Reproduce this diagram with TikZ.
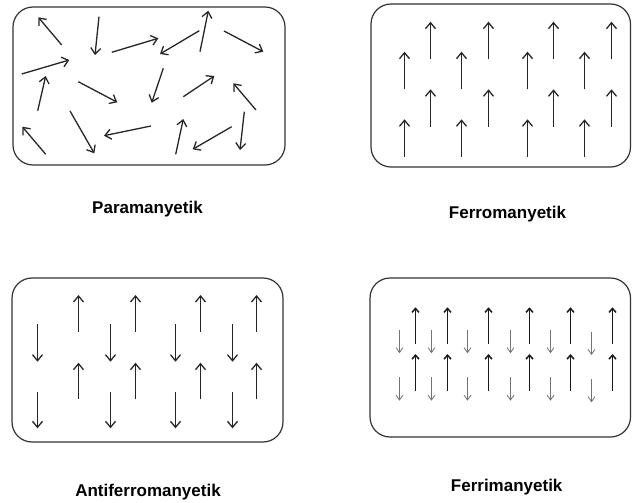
\documentclass[tikz,border=0pt]{standalone}
\usepackage{fontspec}
\setmainfont{Liberation Sans}
\usetikzlibrary{arrows.meta}
\begin{document}
\begin{tikzpicture}[x=1pt,y=-1pt,
  panel/.style={draw=black!80, line width=1.2pt, rounded corners=20pt},
  spin/.style={line width=1.3pt, draw=black!85, -{Straight Barb[length=6pt,width=10pt]}},
  upspin/.style={line width=1.5pt, draw=black!90, -{Straight Barb[length=4pt,width=7pt]}},
  downspin/.style={line width=0.8pt, draw=black!55, -{Straight Barb[length=5pt,width=7pt]}},
  lbl/.style={font=\bfseries\fontsize{17}{19}\selectfont, anchor=base, inner sep=0pt}]
\useasboundingbox (0,0) rectangle (632,503);

% panels
\draw[panel] (13,7) rectangle (285,165);
\draw[panel] (371,4) rectangle (630.5,167);
\draw[panel] (12,278) rectangle (283,442);
\draw[panel] (370,278) rectangle (630.5,437);

% paramagnetic: random spins
\draw[spin] (61.7,45) -- (38.3,17.3);
\draw[spin] (99,16.7) -- (95,55);
\draw[spin] (111.7,52.3) -- (158.3,38.3);
\draw[spin] (199.3,30.7) -- (160,54);
\draw[spin] (200,51.7) -- (208.3,10.7);
\draw[spin] (224,31) -- (263.3,51.7);
\draw[spin] (21.7,74) -- (69.3,60);
\draw[spin] (37.7,110.7) -- (45.7,76);
\draw[spin] (78.3,81.7) -- (117.3,102.3);
\draw[spin] (163.3,68.3) -- (151.7,102.7);
\draw[spin] (183.3,96.7) -- (214.3,76);
\draw[spin] (256,110) -- (233.3,83.3);
\draw[spin] (45.7,154.3) -- (22.3,126.7);
\draw[spin] (70,111) -- (94.3,153.3);
\draw[spin] (151,126) -- (104,135.7);
\draw[spin] (175.7,154.3) -- (183.3,119);
\draw[spin] (231.7,126.7) -- (192.7,149.3);
\draw[spin] (244.3,111.7) -- (240,150);

% ferromagnetic
\foreach \x in {404.5,461.5,527.5,584.5} {
  \draw[spin] (\x,89.3) -- (\x,51.7);
  \draw[spin] (\x,156.7) -- (\x,119.3);
}
\foreach \x in {430.5,488.5,553.5,611.5} {
  \draw[spin] (\x,59.3) -- (\x,21.7);
  \draw[spin] (\x,126.7) -- (\x,89.3);
}

% antiferromagnetic
\foreach \x in {37.5,110.5,175.5,232.5} {
  \draw[spin] (\x,324) -- (\x,361.7);
  \draw[spin] (\x,391.7) -- (\x,428.3);
}
\foreach \x in {78.5,135.5,200.5,256.5} {
  \draw[spin] (\x,331.7) -- (\x,295);
  \draw[spin] (\x,399.3) -- (\x,362.7);
}

% ferrimagnetic
\foreach \x in {415.5,447.5,488.5,529.5,570.5,612.5} {
  \draw[upspin] (\x,344) -- (\x,307.3);
  \draw[upspin] (\x,390.7) -- (\x,354);
}
\foreach \x in {399.5,431.5,467.5,510.5,550.5} {
  \draw[downspin] (\x,330) -- (\x,353.3);
  \draw[downspin] (\x,377.3) -- (\x,400.7);
}
\draw[downspin] (591.5,331.7) -- (591.5,355);
\draw[downspin] (591.5,379) -- (591.5,402.3);

% labels
\node[lbl] (para) at (147.5,213.3) {Paramanyetik};
\node[lbl] (ferro) at (507.5,218.7) {Ferromanyetik};
\node[lbl] (antiferro) at (148,496.7) {Antiferromanyetik};
\node[lbl] (ferri) at (506.7,491.7) {Ferrimanyetik};
\end{tikzpicture}
\end{document}
